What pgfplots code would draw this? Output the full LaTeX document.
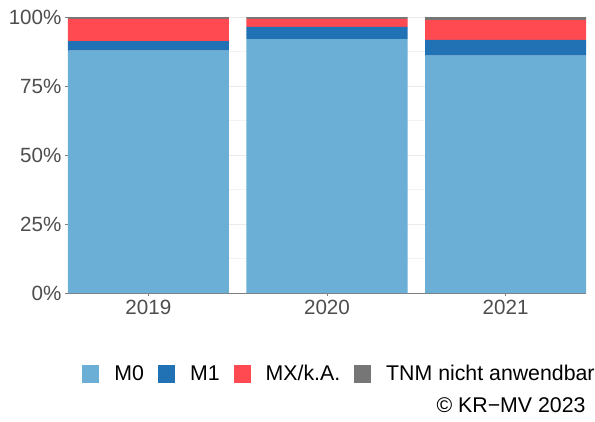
\documentclass[border=0pt]{standalone}
\usepackage{fontspec}
\setmainfont{Liberation Sans}
\usepackage{pgfplots}
\pgfplotsset{compat=1.18}
\definecolor{cM0}{HTML}{6BAED6}
\definecolor{cM1}{HTML}{2171B5}
\definecolor{cMX}{HTML}{FF4A52}
\definecolor{cTNM}{HTML}{767676}
\definecolor{ticktext}{HTML}{4D4D4D}
\definecolor{axgray}{HTML}{7F7F7F}
\definecolor{gridc}{HTML}{EBEBEB}
\begin{document}
\begin{tikzpicture}
\begin{axis}[
  scale only axis,
  width=518pt, height=276pt,
  xmin=-0.45, xmax=2.45, ymin=0, ymax=100,
  ybar stacked, bar width=161pt,
  xtick={0,1,2}, xticklabels={2019,2020,2021},
  ytick={0,25,50,75,100}, yticklabels={0\%,25\%,50\%,75\%,100\%},
  minor ytick={12.5,37.5,62.5,87.5},
  ymajorgrids, yminorgrids,
  major grid style={gridc, line width=0.6pt},
  minor grid style={gridc!60, line width=0.5pt},
  axis x line*=bottom, axis y line*=left,
  axis line style={axgray, line width=0.8pt, -},
  tick style={axgray, line width=0.8pt},
  major tick length=3pt,
  tick align=outside,
  minor tick length=0pt,
  /pgf/number format/assume math mode=true,
  tick label style={font=\fontsize{20.6}{24}\selectfont, text=ticktext},
  every x tick label/.style={yshift=-1pt},
  legend columns=4,
  legend style={at={(axis description cs:0.0276,-0.2917)}, anchor=west, draw=none, fill=none, inner sep=0pt,
    font=\fontsize{21.3}{25}\selectfont,
    nodes={inner sep=0pt},
    /tikz/every odd column/.append style={column sep=15pt},
    /tikz/every even column/.append style={column sep=14pt}},
  legend image code/.code={\fill[#1] (0pt,-9pt) rectangle (17pt,9pt);},
]
\addplot[fill=cM0, draw=none] coordinates {(0,87.8) (1,92.0) (2,86.0)};
\addplot[fill=cM1, draw=none] coordinates {(0,3.5) (1,4.4) (2,5.7)};
\addplot[fill=cMX, draw=none] coordinates {(0,8.0) (1,2.9) (2,7.2)};
\addplot[fill=cTNM, draw=none] coordinates {(0,0.7) (1,0.7) (2,1.1)};
\legend{M0,M1,MX/k.A.,TNM nicht anwendbar}
\end{axis}
\node[anchor=base east, inner sep=0pt, font=\fontsize{21.3}{25}\selectfont] at ([shift={(517.7pt,-119.3pt)}]current axis.south west) {© KR−MV 2023};
\useasboundingbox ([shift={(-68pt,-128pt)}]current axis.south west) rectangle ([shift={(527pt,293pt)}]current axis.south west);
\end{tikzpicture}
\end{document}
